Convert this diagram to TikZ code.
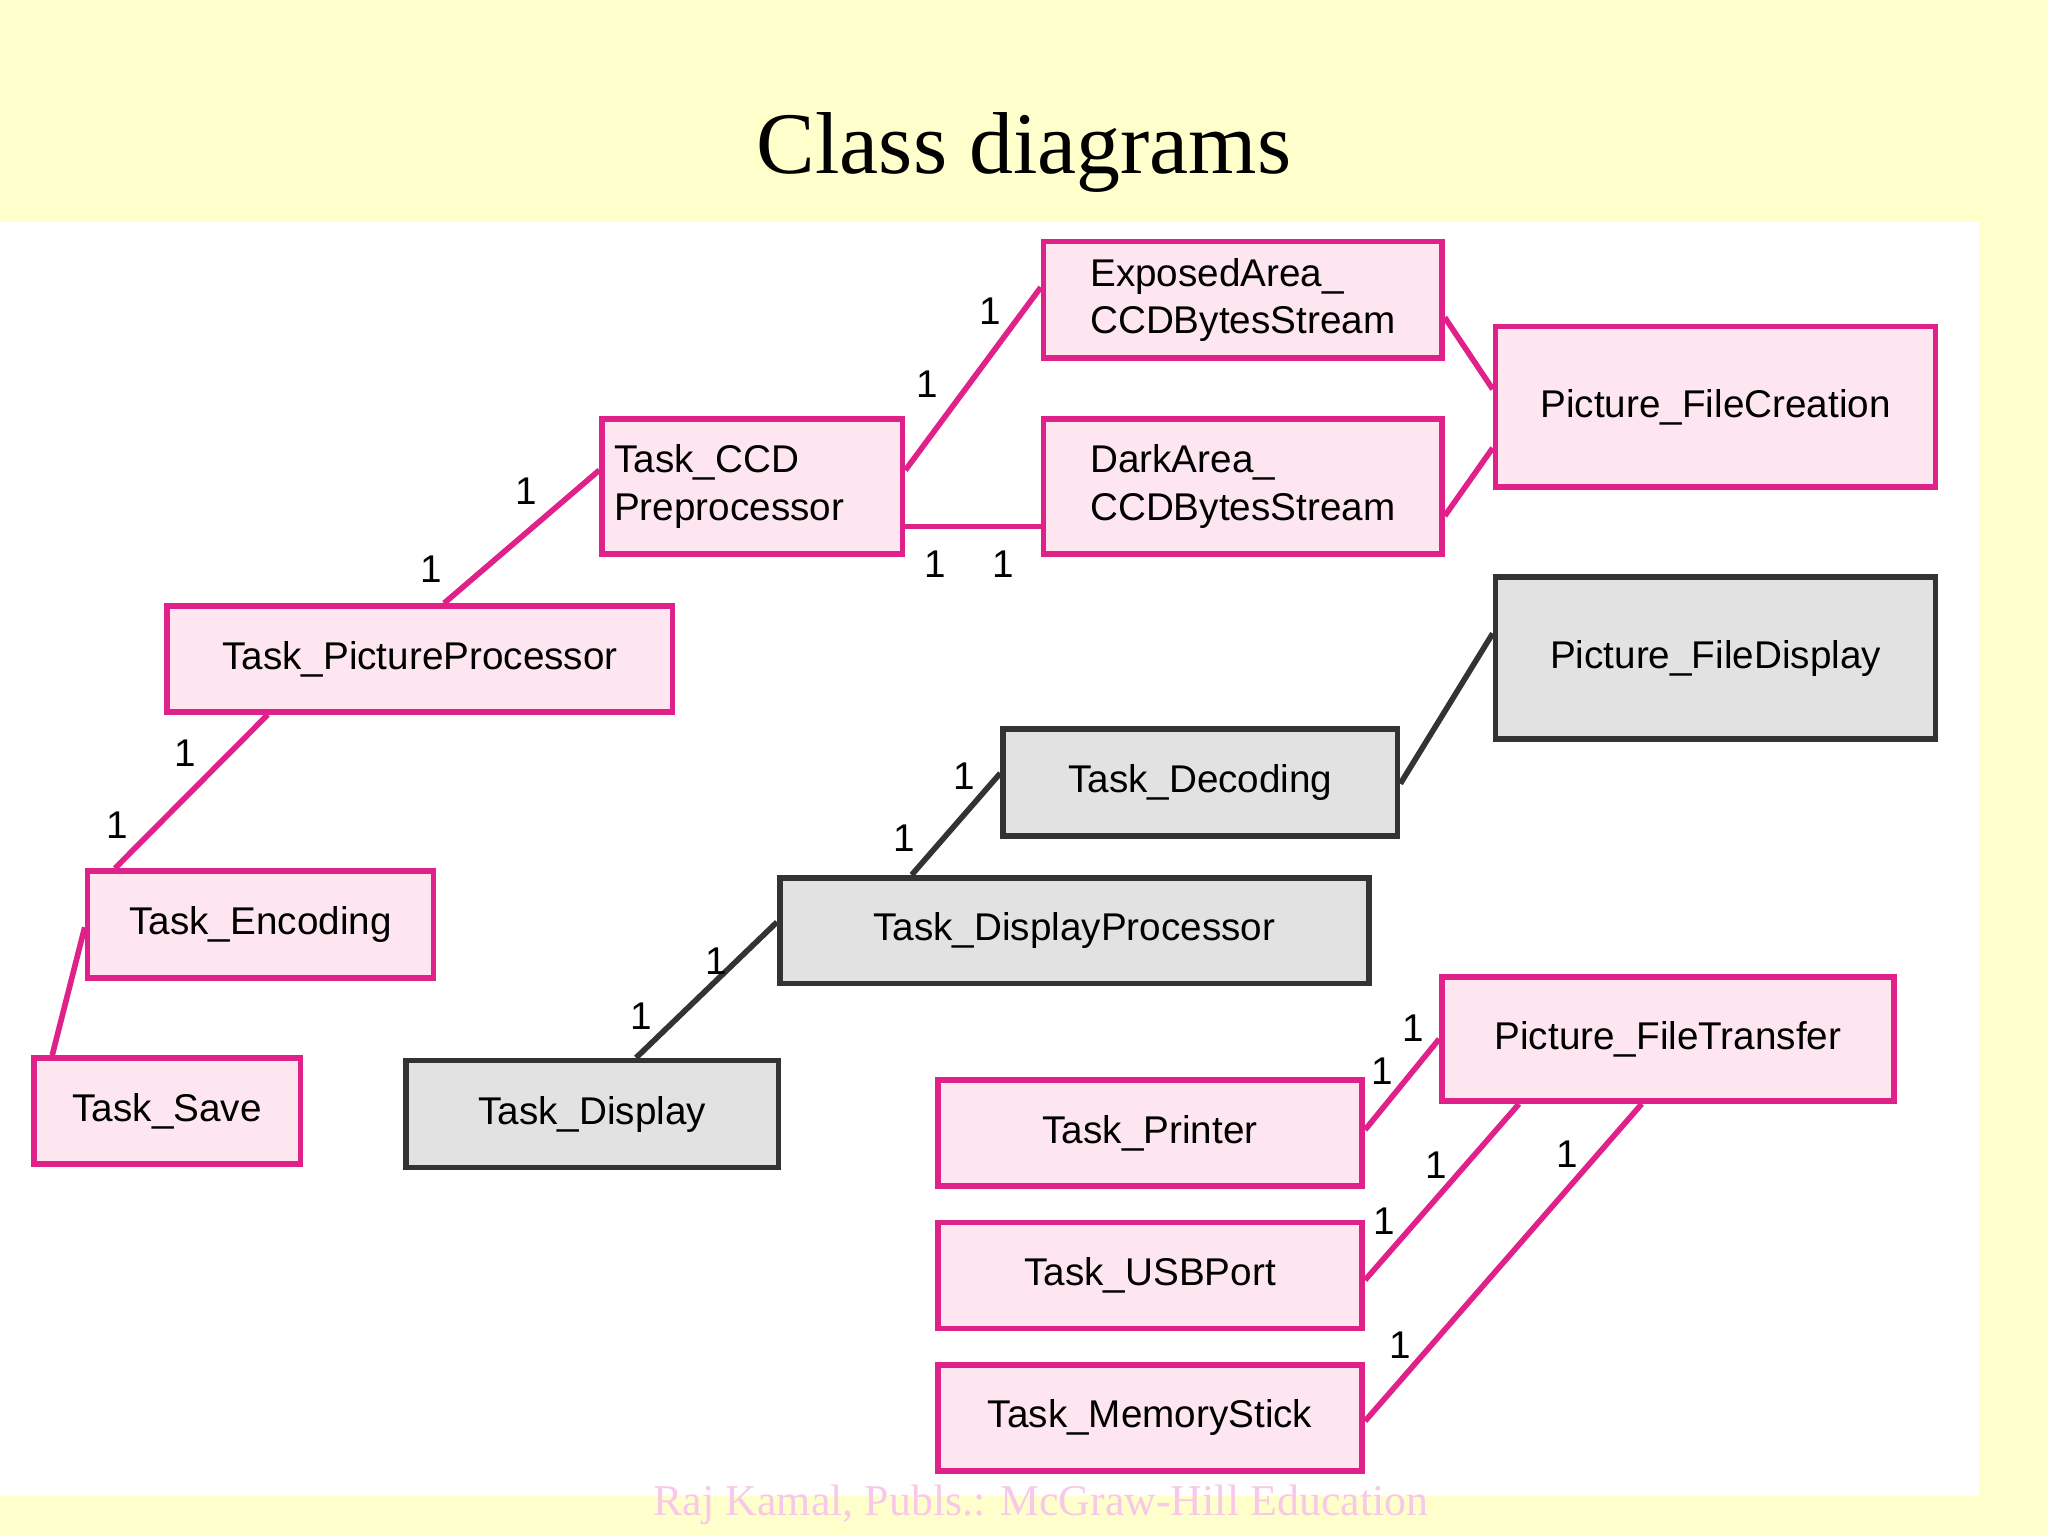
\documentclass[tikz,border=0pt]{standalone}
\usepackage{fontspec}
\setmainfont{Liberation Serif}
\newfontfamily\boxfont{Liberation Sans}
\definecolor{bgyellow}{HTML}{FFFFCC}
\definecolor{pinkline}{HTML}{E0218A}
\definecolor{pinkfill}{HTML}{FDE6EF}
\definecolor{grayfill}{HTML}{E2E2E2}
\definecolor{grayline}{HTML}{333333}
\definecolor{footpink}{HTML}{F8C8E8}
\def\pu{0.013061cm}
\tikzset{
  box/.style={draw=pinkline, fill=pinkfill, line width=1.6pt, inner sep=0pt,
    font=\boxfont\fontsize{11}{13.5}\selectfont},
  gbox/.style={box, draw=grayline, fill=grayfill},
  link/.style={draw=pinkline, line width=1.6pt},
  glink/.style={draw=grayline, line width=1.6pt},
  one/.style={font=\boxfont\fontsize{11}{13}\selectfont, inner sep=0pt}
}
% name, x1, y1, x2, y2, style, text
\newcommand\bx[7]{\node[#6, minimum width={(#4-#2)*\pu}, minimum height={(#5-#3)*\pu}]
  (#1) at ({(#2+#4)/2},{(#3+#5)/2}) {#7};}
\begin{document}
\begin{tikzpicture}[x=\pu, y=-\pu]
\useasboundingbox (0,0) rectangle (1568,1176);
\fill[bgyellow] (0,0) rectangle (1568,1176);
\fill[white] (0,170) rectangle (1515,1145);
\node[font=\fontsize{25}{30}\selectfont] (title) at (784,117) {Class diagrams};
\node[font=\fontsize{12.5}{15}\selectfont, text=footpink] (foot) at (797,1152) {Raj Kamal, Publs.: McGraw-Hill Education};

% boxes
\bx{ex}{799}{185}{1104}{274}{box, align=left}{ExposedArea\_\\CCDBytesStream}
\bx{fc}{1145}{250}{1482}{373}{box}{Picture\_FileCreation}
\bx{ccd}{461}{321}{691}{424}{box, align=left}{Task\_CCD\\Preprocessor\hspace*{1.2em}}
\bx{dk}{799}{321}{1104}{424}{box, align=left}{DarkArea\_\\CCDBytesStream}
\bx{fd}{1145}{442}{1482}{566}{gbox}{Picture\_FileDisplay}
\bx{pp}{128}{464}{515}{545}{box}{Task\_PictureProcessor}
\bx{dec}{768}{558}{1070}{640}{gbox}{Task\_Decoding}
\bx{enc}{67}{667}{332}{749}{box}{Task\_Encoding}
\bx{dp}{597}{672}{1048}{753}{gbox}{Task\_DisplayProcessor}
\bx{ft}{1104}{748}{1450}{843}{box}{Picture\_FileTransfer}
\bx{sv}{26}{810}{230}{891}{box}{Task\_Save}
\bx{disp}{311}{812}{596}{894}{gbox}{Task\_Display}
\bx{pr}{718}{827}{1043}{908}{box}{Task\_Printer}
\bx{usb}{718}{936}{1043}{1017}{box}{Task\_USBPort}
\bx{ms}{718}{1045}{1043}{1126}{box}{Task\_MemoryStick}

% connectors
\draw[link] ([shift={(18.5,0)}]pp.north) -- ([shift={(0,-12.5)}]ccd.west);
\draw[link] ([shift={(0,-12.5)}]ccd.east) -- ([shift={(0,-9.5)}]ex.west);
\draw[link] ([shift={(0,30.5)}]ccd.east) -- ([shift={(0,30.5)}]dk.west);
\draw[link] ([shift={(0,13.5)}]ex.east) -- ([shift={(0,-13.5)}]fc.west);
\draw[link] ([shift={(0,22.5)}]dk.east) -- ([shift={(0,31.5)}]fc.west);
\draw[link] ([shift={(-116.5,0)}]pp.south) -- ([shift={(-111.5,0)}]enc.north);
\draw[link] ([shift={(0,2)}]enc.west) -- ([shift={(-88,0)}]sv.north);
\draw[glink] ([shift={(0,1)}]dec.east) -- ([shift={(0,-19)}]fd.west);
\draw[glink] ([shift={(-124.5,0)}]dp.north) -- ([shift={(0,-7)}]dec.west);
\draw[glink] ([shift={(33.5,0)}]disp.north) -- ([shift={(0,-6.5)}]dp.west);
\draw[link] ([shift={(0,-2.5)}]pr.east) -- (ft.west);
\draw[link] ([shift={(0,3.5)}]usb.east) -- ([shift={(-114,0)}]ft.south);
\draw[link] ([shift={(0,2.5)}]ms.east) -- ([shift={(-20,0)}]ft.south);

% multiplicities
\foreach \n/\x/\y in {a/330/436, b/403/376, c/710/294, d/758/238, e/716/432, f/768/432,
  g/142/577, h/90/632, i/692/642, j/738/594, k/491/778, l/548/736,
  m/1058/820, n/1082/787, o/1060/935, p/1100/892, q/1072/1030, r/1200/884}
  \node[one] (m\n) at (\x,\y) {1};
\end{tikzpicture}
\end{document}
